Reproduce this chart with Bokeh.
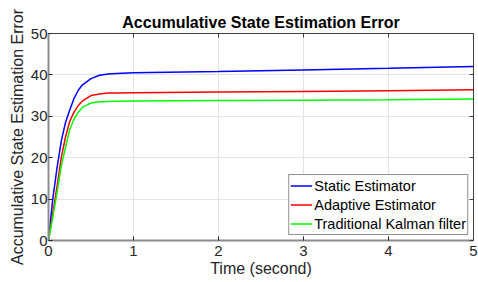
from bokeh.plotting import figure
from bokeh.models import Range1d, LinearAxis, FixedTicker, Legend, LegendItem
from bokeh.embed import file_html
from bokeh.resources import INLINE

# ---- data ----
t = [0, 0.05, 0.1, 0.15, 0.2, 0.25, 0.3, 0.35, 0.4, 0.5, 0.6, 0.7, 0.8, 1, 2, 3, 4, 5]
static_est = [0, 10, 17.5, 24, 28.5, 31.5, 34.3, 36.3, 37.6, 39.1, 39.9, 40.2, 40.35, 40.5, 40.8, 41.2, 41.6, 42.05]
adaptive_est = [0, 6.5, 13, 20, 25, 28.8, 31.0, 32.6, 33.7, 35.0, 35.4, 35.6, 35.65, 35.7, 35.85, 36.0, 36.2, 36.4]
kalman = [0, 5.5, 11.5, 18, 22.5, 26.8, 29.3, 31.0, 32.2, 33.2, 33.5, 33.6, 33.65, 33.7, 33.8, 33.9, 34.0, 34.15]
series_names = ["Static Estimator", "Adaptive Estimator", "Traditional Kalman filter"]
series_colors = ["#0000ff", "#ff0000", "#00ff00"]
x_ticks = [0, 1, 2, 3, 4, 5]
y_ticks = [0, 10, 20, 30, 40, 50]

FONT = "Liberation Sans"
TXT = "#262626"

p = figure(width=478, height=282, output_backend="svg", toolbar_location=None,
           x_range=Range1d(0, 5), y_range=Range1d(0, 50),
           min_border_left=48, min_border_right=5, min_border_top=33, min_border_bottom=42)
p.background_fill_color = "white"
p.border_fill_color = "white"
p.outline_line_color = None

p.title.text = "Accumulative State Estimation Error"
p.title.align = "center"
p.title.text_font = FONT
p.title.text_font_size = "16px"
p.title.text_font_style = "bold"
p.title.text_color = "black"
p.title.standoff = 5
p.title.offset = 0

for ax, ticks in ((p.xaxis[0], x_ticks), (p.yaxis[0], y_ticks)):
    ax.ticker = FixedTicker(ticks=ticks)
    ax.major_tick_in = 4
    ax.major_tick_out = 0
    ax.minor_tick_in = 0
    ax.minor_tick_out = 0
    ax.axis_line_color = "#8c8c8c"
    ax.axis_line_width = 2
    ax.major_tick_line_color = "#262626"
    ax.major_label_text_font = FONT
    ax.major_label_text_font_size = "15px"
    ax.major_label_text_color = TXT
    ax.axis_label_text_font = FONT
    ax.axis_label_text_font_size = "16px"
    ax.axis_label_text_font_style = "normal"
    ax.axis_label_text_color = TXT

p.xaxis[0].axis_label = "Time (second)"
p.xaxis[0].major_label_standoff = 5
p.xaxis[0].axis_label_standoff = 1
p.yaxis[0].axis_label = "Accumulative State Estimation Error"
p.yaxis[0].major_label_standoff = 1
p.yaxis[0].axis_label_standoff = 2

for side, ticks in (("above", x_ticks), ("right", y_ticks)):
    ax = LinearAxis(ticker=FixedTicker(ticks=ticks),
                    major_label_overrides={tk: "" for tk in ticks})
    ax.major_tick_in = 4
    ax.major_tick_out = 0
    ax.minor_tick_in = 0
    ax.minor_tick_out = 0
    ax.axis_line_color = "#404040"
    ax.axis_line_width = 1
    ax.major_tick_line_color = "#404040"
    ax.major_label_standoff = 0
    p.add_layout(ax, side)

p.xgrid.ticker = FixedTicker(ticks=x_ticks)
p.ygrid.ticker = FixedTicker(ticks=y_ticks)
p.grid.grid_line_color = "#e3e3e3"
p.grid.grid_line_width = 1

renderers = []
for ys, c in zip([static_est, adaptive_est, kalman], series_colors):
    r = p.line(t, ys, line_color=c, line_width=1.5)
    renderers.append(r)

legend = Legend(items=[LegendItem(label=n, renderers=[r]) for n, r in zip(series_names, renderers)],
                location="bottom_right")
legend.label_text_font = FONT
legend.label_text_font_size = "14.5px"
legend.label_text_color = "black"
legend.border_line_color = "#262626"
legend.border_line_width = 1
legend.background_fill_alpha = 1
legend.padding = 1
legend.spacing = 0
legend.margin = 5
legend.label_height = 19
legend.glyph_height = 19
legend.glyph_width = 22
legend.label_standoff = 2
p.add_layout(legend, "center")

open("out.html", "w").write(file_html(p, INLINE))
